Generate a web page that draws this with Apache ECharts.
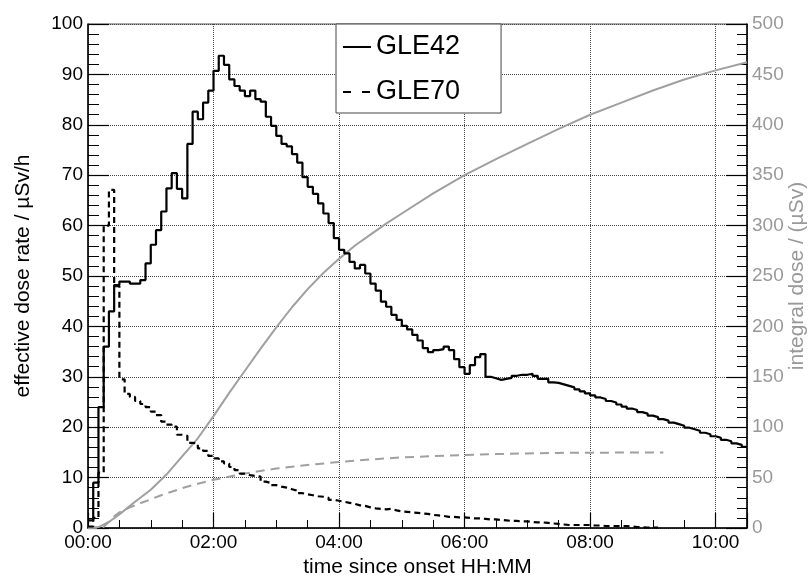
<!DOCTYPE html>
<html>
<head>
<meta charset="utf-8">
<script src="https://cdn.jsdelivr.net/npm/echarts@6/dist/echarts.min.js"></script>
<style>
  html, body { margin: 0; padding: 0; background: #fff; }
  #chart { width: 808px; height: 576px; }
</style>
</head>
<body>
<div id="chart"></div>
<script>
// bin width of the dose rate histograms, minutes
const BIN = 5
// effective dose rate (µSv/h), one value per 5 min bin starting at 00:00
const gle42Rate = [
  1.5, 9, 24, 36, 43, 48.2, 48.9, 48.9, 48.5, 48.5, 49.2, 52.5,
  56.2, 59.1, 62.8, 67.4, 70.4, 67.3, 65.4, 76.2, 82.6, 81.1, 84.4, 86.8,
  90.7, 93.7, 91.9, 89.0, 87.7, 86.8, 85.7, 86.8, 85.1, 84.6, 81.6, 79.8,
  77.8, 76.2, 75.7, 74.2, 72.5, 69.6, 67.7, 66.3, 64.4, 62.4, 60.5, 57.5,
  55.2, 54.5, 52.8, 51.5, 52.2, 50.5, 48.5, 47.1, 44.9, 43.9, 42.3, 41.3,
  40.1, 39.4, 38.3, 37.2, 35.7, 34.9, 35.3, 35.5, 36.0, 35.3, 33.5, 31.9,
  30.6, 32.3, 33.9, 34.5, 30.0, 29.7, 29.4, 29.6, 29.8, 30.2, 30.4, 30.4,
  30.6, 30.2, 29.6, 29.6, 28.9, 28.8, 28.5, 28.2, 27.9, 27.5, 27.1, 26.7,
  26.3, 25.9, 25.6, 25.2, 24.9, 24.5, 24.1, 23.7, 23.4, 23.0, 22.7, 22.3,
  22.0, 21.6, 21.3, 20.9, 20.6, 20.3, 19.9, 19.6, 19.3, 18.9, 18.6, 18.2,
  17.9, 17.5, 17.2, 16.8, 16.5, 16.1
]
const gle70Rate = [
  0.3, 2, 11, 60, 67.1, 48, 29.5, 26.6, 26.0, 25.2, 24.6, 24.0,
  23.1, 22.4, 21.1, 20.5, 20.1, 18.5, 18.3, 16.9, 16.8, 15.8, 15.3, 14.3,
  13.8, 13.2, 12.8, 12.1, 11.5, 10.8, 10.5, 10.3, 10.2, 9.2, 8.9, 8.5,
  8.2, 8.0, 7.7, 7.4, 6.9, 6.7, 6.5, 6.3, 6.2, 6.0, 5.6, 5.4,
  5.2, 5.0, 4.8, 4.5, 4.4, 4.1, 3.9, 3.8, 3.7, 3.8, 3.5, 3.3,
  3.2, 3.1, 3.0, 2.9, 2.8, 2.6, 2.5, 2.4, 2.2, 2.2, 2.1, 2.1,
  2.0, 1.9, 1.9, 1.8, 1.7, 1.7, 1.6, 1.5, 1.4, 1.4, 1.3, 1.3,
  1.2, 1.1, 1.1, 1.0, 0.9, 0.8, 0.7, 0.6, 0.6, 0.6, 0.6, 0.6,
  0.5, 0.5, 0.4, 0.4, 0.4, 0.4, 0.4, 0.3, 0.2, 0.15, 0.1, 0.1,
  0.1
]
// integral dose (µSv)
const gle42DoseTime = [0, 10, 20, 30, 45, 60, 75, 90, 105, 120, 135, 150, 165, 180, 195, 210, 225, 240, 255, 270, 285, 300, 330, 360, 390, 420, 450, 480, 510, 540, 570, 600, 630]
const gle42Dose = [0, 0.9, 6, 13.5, 26, 38, 53, 71, 89, 111, 134, 156, 178, 199, 219, 237, 253, 267, 280, 291, 302, 312, 332, 350, 366, 381, 396, 410, 422, 434, 445, 454, 462]
const gle70DoseTime = [0, 10, 15, 20, 25, 30, 40, 50, 60, 70, 80, 90, 100, 120, 140, 160, 180, 210, 240, 270, 300, 330, 360, 390, 420, 450, 480, 510, 550]
const gle70Dose = [0, 0.2, 1.1, 6, 11.5, 15.5, 20.5, 24.5, 28.5, 32.5, 36, 39.5, 42.5, 47.8, 52, 55.8, 59, 62.5, 65.5, 68, 70, 71.3, 72.4, 73.3, 74, 74.5, 74.7, 74.8, 75]

const FONT = "'Liberation Sans', Arial, sans-serif"

// histogram -> step points, closing the last bin
function histPoints (values) {
  const pts = values.map((v, i) => [i * BIN, v])
  pts.push([values.length * BIN, values[values.length - 1]])
  return pts
}
function pairs (xs, ys) {
  return xs.map((x, i) => [x, ys[i]])
}
function hhmm (v) {
  const h = Math.floor(v / 60)
  const m = Math.round(v % 60)
  return String(h).padStart(2, '0') + ':' + String(m).padStart(2, '0')
}

const chart = echarts.init(document.getElementById('chart'))
chart.setOption({
  backgroundColor: '#fff',
  animation: false,
  textStyle: { fontFamily: FONT },
  grid: {
    left: 88, right: 61, top: 24, bottom: 48,
    outerBoundsMode: 'none',
    containLabel: false,
    show: true, borderColor: '#555', borderWidth: 1, backgroundColor: 'transparent'
  },
  legend: {
    orient: 'vertical',
    left: 336,
    top: 24,
    padding: [8, 41, 6, 6],
    itemGap: 15,
    itemWidth: 28,
    itemHeight: 20,
    backgroundColor: '#fff',
    borderColor: '#444',
    borderWidth: 1,
    itemStyle: { color: 'transparent', borderColor: 'transparent', borderWidth: 0, opacity: 0 },
    data: [
      { name: 'GLE42' },
      { name: 'GLE70', lineStyle: { type: [8, 11] } }
    ],
    textStyle: { fontSize: 27, color: '#000', lineHeight: 30, fontFamily: FONT }
  },
  xAxis: {
    type: 'value',
    min: 0,
    max: 630,
    interval: 120,
    name: 'time since onset HH:MM',
    nameLocation: 'middle',
    nameGap: 27,
    nameTextStyle: { fontSize: 21, color: '#000', fontFamily: FONT },
    axisLine: { show: true, onZero: false, lineStyle: { color: '#000', width: 1.5 } },
    axisTick: { show: true, inside: true, length: 15, lineStyle: { color: '#000', width: 1.2 } },
    minorTick: { show: true, splitNumber: 4, length: 8, lineStyle: { color: '#000', width: 1 } },
    axisLabel: {
      fontSize: 19, color: '#000', margin: 5, showMaxLabel: false,
      formatter: hhmm
    },
    splitLine: { show: true, lineStyle: { type: 'dotted', color: '#444', width: 1 } }
  },
  yAxis: [{
    type: 'value',
    position: 'left',
    min: 0,
    max: 100,
    interval: 10,
    name: 'effective dose rate / µSv/h',
    nameLocation: 'middle',
    nameRotate: 90,
    nameGap: 54,
    nameTextStyle: { fontSize: 21, color: '#000', fontFamily: FONT },
    axisLine: { show: true, onZero: false, lineStyle: { color: '#000', width: 1.5 } },
    axisTick: { show: true, inside: true, length: 21, lineStyle: { color: '#000', width: 1.2 } },
    minorTick: { show: true, splitNumber: 5, length: 11, lineStyle: { color: '#000', width: 1 } },
    axisLabel: { fontSize: 19, color: '#000', margin: 5 },
    splitLine: { show: true, lineStyle: { type: 'dotted', color: '#444', width: 1 } }
  }, {
    type: 'value',
    position: 'right',
    min: 0,
    max: 500,
    interval: 50,
    name: 'integral dose / (µSv)',
    nameLocation: 'middle',
    nameRotate: 90,
    nameGap: 40,
    nameMoveOverlap: false,
    nameTextStyle: { fontSize: 21, color: '#999', fontFamily: FONT },
    axisLine: { show: true, onZero: false, lineStyle: { color: '#000', width: 1.5 } },
    axisTick: { show: true, inside: true, length: 21, lineStyle: { color: '#000', width: 1.2 } },
    minorTick: { show: true, splitNumber: 5, length: 10, lineStyle: { color: '#000', width: 1 } },
    axisLabel: { fontSize: 19, color: '#999', margin: 5 },
    splitLine: { show: false }
  }],
  series: [{
    name: 'GLE42 dose',
    type: 'line',
    yAxisIndex: 1,
    smooth: false,
    symbol: 'none',
    lineStyle: { color: '#a0a0a0', width: 2 },
    itemStyle: { color: '#a0a0a0' },
    data: pairs(gle42DoseTime, gle42Dose)
  }, {
    name: 'GLE70 dose',
    type: 'line',
    yAxisIndex: 1,
    smooth: false,
    symbol: 'none',
    lineStyle: { color: '#a0a0a0', width: 2, type: [9, 6] },
    itemStyle: { color: '#a0a0a0' },
    data: pairs(gle70DoseTime, gle70Dose)
  }, {
    name: 'GLE42',
    type: 'line',
    yAxisIndex: 0,
    step: 'end',
    symbol: 'none',
    lineStyle: { color: '#000', width: 2.2 },
    itemStyle: { color: '#000' },
    data: histPoints(gle42Rate)
  }, {
    name: 'GLE70',
    type: 'line',
    yAxisIndex: 0,
    step: 'end',
    symbol: 'none',
    lineStyle: { color: '#000', width: 2.2, type: [6, 4] },
    itemStyle: { color: '#000' },
    data: histPoints(gle70Rate)
  }]
})
</script>
</body>
</html>
